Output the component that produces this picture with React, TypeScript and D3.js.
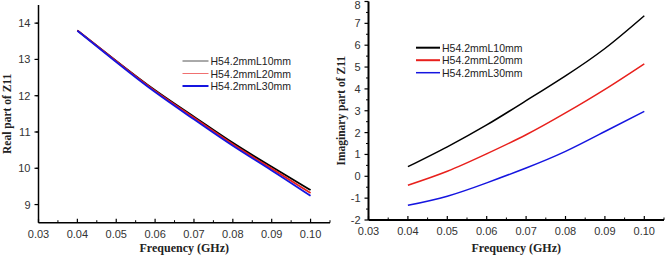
import React from 'react';
import * as d3 from 'd3';

// frequency samples (GHz)
const freq = [0.04, 0.05, 0.06, 0.07, 0.08, 0.09, 0.10];
const seriesNames = ['H54.2mmL10mm', 'H54.2mmL20mm', 'H54.2mmL30mm'];
const seriesColors = ['#000000', '#e8201c', '#1515e0'];

// real part of Z11
const realL10 = [13.80, 12.96, 12.15, 11.42, 10.70, 10.04, 9.40];
const realL20 = [13.80, 12.95, 12.13, 11.39, 10.66, 9.99, 9.32];
const realL30 = [13.79, 12.93, 12.10, 11.35, 10.62, 9.94, 9.24];

// imaginary part of Z11
const imagL10 = [0.44, 1.35, 2.35, 3.46, 4.60, 5.85, 7.35];
const imagL20 = [-0.41, 0.23, 1.03, 1.90, 2.90, 3.98, 5.15];
const imagL30 = [-1.33, -0.91, -0.30, 0.38, 1.14, 2.05, 2.97];

const xTicks = [0.03, 0.04, 0.05, 0.06, 0.07, 0.08, 0.09, 0.10];
const realTicks = [9, 10, 11, 12, 13, 14];
const imagTicks = [-2, -1, 0, 1, 2, 3, 4, 5, 6, 7, 8];

interface PanelProps {
  x0: number; x1: number; y0: number; y1: number;
  yDomain: [number, number];
  yTicks: number[];
  yTitle: string;
  yTitleX: number;
  series: number[][];
  legend: { x: number; y: number; gap: number; len: number; widths: number[]; colors: string[] };
  axisWidth: number;
  lineWidth: number;
}

function Panel(p: PanelProps) {
  const x = d3.scaleLinear().domain([0.03, 0.105]).range([p.x0, p.x1]);
  const y = d3.scaleLinear().domain(p.yDomain).range([p.y0, p.y1]);
  const line = d3.line<number>()
    .x((_, i) => x(freq[i]))
    .y(d => y(d))
    .curve(d3.curveNatural);
  const minorX = d3.range(0.035, 0.106, 0.01);
  const minorY = d3.range(p.yDomain[0] + 0.5, p.yDomain[1] + 0.01, 1);
  const tickFont = { fontFamily: 'Liberation Sans, Arial, sans-serif', fontSize: 11, fill: '#333' };
  return (
    <g>
      {p.series.map((s, i) => (
        <path key={i} d={line(s) || ''} fill="none" stroke={seriesColors[i]} strokeWidth={p.lineWidth} />
      ))}
      {/* axes */}
      <line x1={p.x0} x2={p.x1} y1={p.y0} y2={p.y0} stroke="#000" strokeWidth={p.axisWidth} />
      <line x1={p.x0} x2={p.x0} y1={p.y0} y2={p.y1} stroke="#000" strokeWidth={p.axisWidth} />
      {xTicks.map(t => (
        <g key={t}>
          <line x1={x(t)} x2={x(t)} y1={p.y0} y2={p.y0 - 4} stroke="#000" strokeWidth={1.2} />
          <text x={x(t)} y={p.y0 + 15} textAnchor="middle" {...tickFont}>{t.toFixed(2)}</text>
        </g>
      ))}
      {minorX.map(t => (
        <line key={t} x1={x(t)} x2={x(t)} y1={p.y0} y2={p.y0 - 2.5} stroke="#000" strokeWidth={1} />
      ))}
      {p.yTicks.map(t => (
        <g key={t}>
          <line x1={p.x0} x2={p.x0 - 4} y1={y(t)} y2={y(t)} stroke="#000" strokeWidth={1.2} />
          <text x={p.x0 - 8} y={Math.max(y(t) + 4, 9)} textAnchor="end" {...tickFont}>{t}</text>
        </g>
      ))}
      {minorY.map(t => (
        <line key={t} x1={p.x0} x2={p.x0 - 2.5} y1={y(t)} y2={y(t)} stroke="#000" strokeWidth={1} />
      ))}
      <text x={(p.x0 + p.x1) / 2} y={252} textAnchor="middle"
        fontFamily="Liberation Serif, Times New Roman, serif" fontWeight="bold" fontSize={12} fill="#222">
        Frequency (GHz)
      </text>
      <text transform={`translate(${p.yTitleX},${(p.y0 + p.y1) / 2}) rotate(-90)`} textAnchor="middle"
        fontFamily="Liberation Serif, Times New Roman, serif" fontWeight="bold" fontSize={11.5} fill="#222">
        {p.yTitle}
      </text>
      {/* legend */}
      {seriesNames.map((n, i) => (
        <g key={n}>
          <line x1={p.legend.x} x2={p.legend.x + p.legend.len} y1={p.legend.y + i * p.legend.gap}
            y2={p.legend.y + i * p.legend.gap} stroke={p.legend.colors[i]} strokeWidth={p.legend.widths[i]} />
          <text x={p.legend.x + p.legend.len + 2} y={p.legend.y + i * p.legend.gap + 4}
            fontFamily="Liberation Sans, Arial, sans-serif" fontSize={10.5} fill="#222">{n}</text>
        </g>
      ))}
    </g>
  );
}

export default function App() {
  return (
    <svg width={668} height={258} style={{ position: 'absolute', left: 0, top: 0, background: '#fff' }}>
      <Panel x0={38.5} x1={330} y0={222.7} y1={5} yDomain={[8.5, 14.5]} yTicks={realTicks}
        yTitle="Real part of Z11" yTitleX={11}
        series={[realL10, realL20, realL30]}
        legend={{ x: 182.5, y: 61, gap: 12.5, len: 26, widths: [1, 1, 2], colors: ['#555', '#f07070', '#1515e0'] }}
        axisWidth={1.5} lineWidth={1.8} />
      <Panel x0={368.5} x1={664} y0={220} y1={1.5} yDomain={[-2, 8]} yTicks={imagTicks}
        yTitle="Imaginary part of Z11" yTitleX={345}
        series={[imagL10, imagL20, imagL30]}
        legend={{ x: 416, y: 47.7, gap: 12.5, len: 24, widths: [2, 2, 1.5], colors: seriesColors }}
        axisWidth={2} lineWidth={1.5} />
    </svg>
  );
}
